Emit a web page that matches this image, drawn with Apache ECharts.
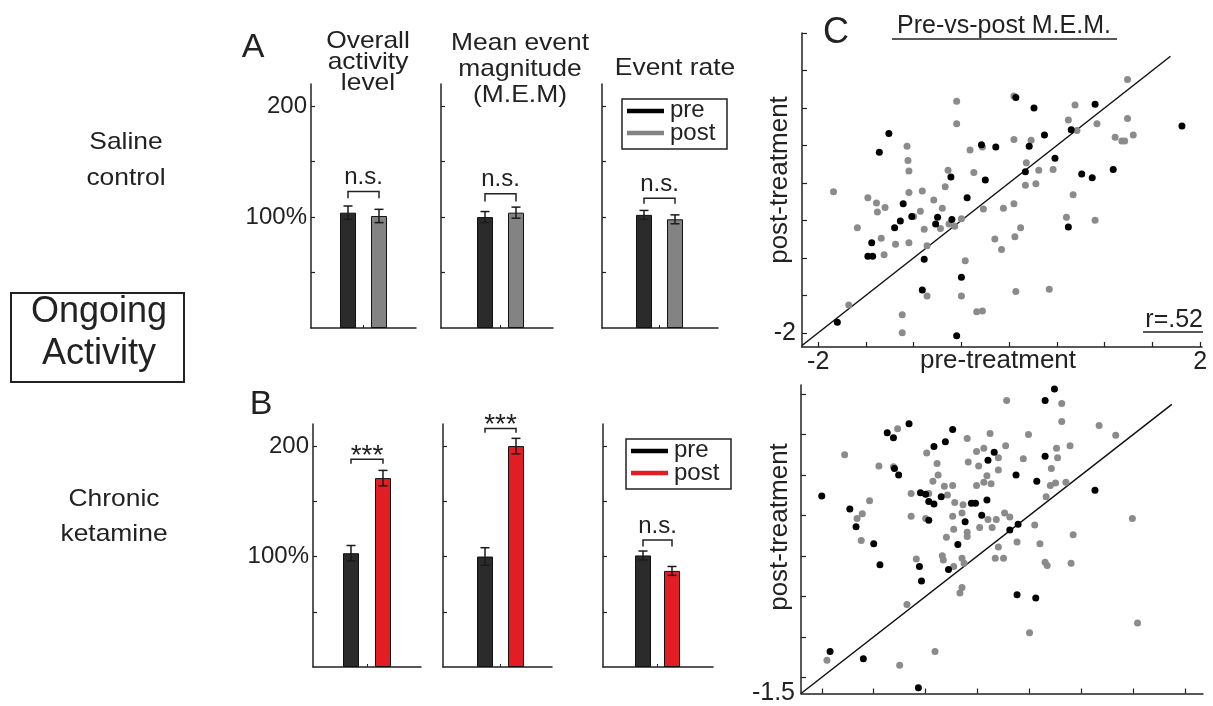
<!DOCTYPE html>
<html>
<head>
<meta charset="utf-8">
<script src="https://cdn.jsdelivr.net/npm/echarts@6/dist/echarts.min.js"></script>
<style>
  html, body { margin: 0; background: #fff; }
  #chart { width: 1213px; height: 706px; }
</style>
</head>
<body>
<div id="chart"></div>
<script>
// ---------- data ----------
const groups = ['pre', 'post']
const salineMean = [[104, 101], [100, 104], [102, 98]]
const salineSem = [[6, 6], [5, 5], [4, 4]]
const ketamineMean = [[103, 171], [100, 200], [101, 87]]
const ketamineSem = [[7, 7], [8, 7], [4, 4]]
const salineSig = ['n.s.', 'n.s.', 'n.s.']
const ketamineSig = ['***', '***', 'n.s.']
// bracket level and end of the bracket legs, in % units
const salineSigY = [[123, 117], [121, 114], [117, 112]]
const ketamineSigY = [[188, 184], [216, 212], [115, 109]]
const barTicks = [50, 100, 150, 200]
const barLabelValues = [100, 200]
const barLabelText = { 100: '100%', 200: '200' }

// Pre-vs-post M.E.M., saline (top) and ketamine (bottom); [pre, post]
const topBlack = [[-1.80,-1.86],[-1.26,0.66],[-1.36,0.41],[-1.11,-0.28],[-1.14,-0.51],[-1.20,-0.60],[-1.44,-0.80],[-1.48,-0.98],[-1.43,-0.98],[-1.02,-0.45],[-0.89,-1.02],[-0.91,-1.43],[-0.77,-0.55],[-0.75,-0.46],[-0.60,-0.49],[-0.61,0.08],[-0.44,-0.20],[-0.50,-1.26],[-0.55,-2.04],[-0.29,0.51],[-0.25,0.04],[-0.14,0.48],[0.07,1.14],[0.26,1.00],[0.21,0.49],[0.37,0.64],[0.17,0.15],[0.48,0.33],[0.65,0.71],[0.90,1.05],[0.76,0.12],[0.87,0.07],[0.62,-0.59],[1.09,0.18],[1.81,0.76]]
const topGray = [[-1.84,-0.12],[-1.68,-1.63],[-1.59,-0.60],[-1.48,-0.20],[-1.39,-0.27],[-1.38,-0.39],[-1.30,-0.33],[-1.34,-0.74],[-1.31,-0.96],[-1.19,-0.82],[-1.07,0.49],[-1.06,0.30],[-1.05,0.16],[-1.05,-0.13],[-1.05,-0.80],[-1.12,-1.76],[-1.12,-2.00],[-1.00,-0.45],[-0.93,-0.38],[-0.91,-0.11],[-0.89,-0.62],[-0.86,-0.84],[-0.86,-1.51],[-0.79,-0.23],[-0.70,-0.34],[-0.67,-0.05],[-0.64,0.17],[-0.72,-0.61],[-0.63,-0.55],[-0.57,-0.58],[-0.55,1.09],[-0.55,0.79],[-0.50,-0.48],[-0.46,-1.04],[-0.50,-1.51],[-0.41,0.44],[-0.37,0.14],[-0.34,-1.72],[-0.28,-1.71],[-0.27,-0.35],[-0.28,0.48],[-0.15,-0.75],[-0.08,-0.89],[-0.06,-0.34],[0.05,1.16],[0.05,0.58],[0.05,-0.28],[0.06,-0.72],[0.07,-1.45],[0.12,-0.60],[0.17,-0.03],[0.18,0.27],[0.23,0.57],[0.28,-0.01],[0.31,0.17],[0.42,-1.42],[0.46,0.18],[0.60,-0.46],[0.62,0.84],[0.67,-0.16],[0.69,1.04],[0.71,0.70],[0.90,-0.50],[0.92,0.79],[1.11,0.61],[1.18,0.56],[1.21,0.56],[1.24,1.38],[1.24,0.86],[1.30,0.64]]
const bottomBlack = [[-1.30,0.94],[-1.03,0.78],[-0.97,0.56],[-0.80,0.35],[-0.74,0.09],[-0.67,1.72],[-0.61,1.66],[-0.60,1.28],[-0.56,1.20],[-0.46,1.83],[-1.22,-0.98],[-0.90,-1.07],[-0.37,-1.43],[-0.36,0.07],[-0.34,-0.11],[-0.35,0.98],[-0.30,0.96],[-0.27,0.87],[-0.22,1.55],[-0.22,0.84],[-0.15,0.93],[-0.11,1.61],[-0.27,0.64],[-0.08,0.03],[-0.04,1.76],[0.01,0.34],[0.08,0.62],[0.14,0.85],[0.18,0.85],[0.24,0.70],[0.29,0.89],[0.30,1.38],[0.36,1.48],[0.51,0.52],[0.59,0.59],[0.57,1.20],[0.58,-0.28],[0.76,-0.32],[0.77,1.12],[0.85,1.43],[0.85,2.12],[0.94,2.26],[1.33,1.01]]
const bottomGray = [[-1.25,-1.09],[-1.08,1.45],[-0.96,0.66],[-0.91,0.72],[-0.92,0.39],[-0.84,0.88],[-0.75,1.31],[-0.57,1.77],[-0.61,1.30],[-0.55,-1.15],[-0.48,-0.40],[-0.44,0.97],[-0.44,0.69],[-0.39,0.16],[-0.29,1.47],[-0.30,0.66],[-0.27,0.97],[-0.23,1.12],[-0.19,1.34],[-0.18,1.20],[-0.21,-0.98],[-0.12,1.06],[-0.09,0.95],[-0.04,1.07],[-0.02,0.86],[-0.04,0.69],[-0.03,0.53],[-0.10,0.43],[-0.14,0.20],[-0.13,0.15],[-0.03,0.07],[0.05,0.17],[0.07,0.11],[0.05,-0.19],[0.03,-0.26],[0.05,0.73],[0.06,0.83],[0.10,1.65],[0.11,1.36],[0.10,0.49],[0.10,0.44],[0.19,1.49],[0.19,1.07],[0.21,1.31],[0.22,0.55],[0.26,1.53],[0.26,1.11],[0.29,1.19],[0.33,1.09],[0.32,1.71],[0.30,0.65],[0.34,0.55],[0.38,0.65],[0.40,1.41],[0.40,1.26],[0.40,0.31],[0.37,0.17],[0.45,0.17],[0.46,0.73],[0.51,0.68],[0.47,1.56],[0.48,2.12],[0.58,0.37],[0.64,1.40],[0.69,1.70],[0.75,0.58],[0.80,0.35],[0.86,0.93],[0.85,0.12],[0.87,0.08],[0.90,1.07],[0.91,1.28],[0.95,1.10],[0.96,1.53],[0.97,1.41],[1.01,2.08],[1.01,1.86],[1.05,1.11],[1.09,1.56],[1.10,0.11],[1.12,0.46],[0.70,-0.75],[1.37,1.81],[1.53,1.69],[1.69,0.66],[1.74,-0.63]]
const topDiagonal = [[-2.17, -2.17], [1.69, 1.69]]
const bottomDiagonal = [[-1.5, -1.5], [2.07, 2.07]]
const topTicks = [-2, -1.5, -1, -0.5, 0, 0.5, 1, 1.5, 2]
const topXLabels = [-2, 2]
const topYLabels = [-2]
const bottomTicks = [-1.3, -0.8, -0.3, 0.2, 0.7, 1.2, 1.7, 2.2]
const bottomYLabels = [-1.5]

// ---------- layout / style ----------
const FONT = 'Liberation Sans, Arial, Helvetica, sans-serif'
const INK = '#222'
const preColor = '#2b2b2b'
const postColors = ['#838383', '#e31d24']
const axisLine = { lineStyle: { color: INK, width: 1.5 } }

// pixel boxes of the six bar panels, and the centres of the two bars
const barPanels = [
  { left: 311, right: 416, top: 84, bottom: 328, pos: [348, 379] },
  { left: 441, right: 553, top: 84, bottom: 328, pos: [485, 516] },
  { left: 602, right: 718, top: 84, bottom: 328, pos: [644, 675] },
  { left: 313, right: 421, top: 424, bottom: 667, pos: [351, 383] },
  { left: 443, right: 552, top: 424, bottom: 667, pos: [485, 516] },
  { left: 603, right: 713, top: 424, bottom: 667, pos: [643, 672] },
]

const grids = []
const xAxes = []
const yAxes = []
const series = []

barPanels.forEach((p, i) => {
  const row = i < 3 ? 0 : 1
  const col = i % 3
  const mean = row ? ketamineMean[col] : salineMean[col]
  const sem = row ? ketamineSem[col] : salineSem[col]
  const sig = row ? ketamineSig[col] : salineSig[col]
  const sigY = row ? ketamineSigY[col] : salineSigY[col]
  const unit = p.pos[1] - p.pos[0]
  const xmin = 1 - (p.pos[0] - p.left) / unit

  grids.push({ left: p.left, top: p.top, width: p.right - p.left, height: p.bottom - p.top })
  xAxes.push({
    gridIndex: i, type: 'value', min: xmin, max: xmin + (p.right - p.left) / unit,
    axisLine: { show: true, onZero: false, ...axisLine },
    axisTick: { show: true, inside: true, length: 3, customValues: [1.5], lineStyle: { color: INK } },
    axisLabel: { show: false }, splitLine: { show: false },
  })
  yAxes.push({
    gridIndex: i, type: 'value', min: 0, max: 220,
    axisLine: { show: true, onZero: false, ...axisLine },
    axisTick: { show: true, inside: true, length: 4, customValues: barTicks, lineStyle: { color: INK, width: 1.2 } },
    axisLabel: {
      show: col === 0, customValues: barLabelValues, formatter: (v) => barLabelText[v],
      fontSize: 24, fontFamily: FONT, color: INK, margin: 4,
    },
    splitLine: { show: false },
  })
  series.push({
    type: 'bar', xAxisIndex: i, yAxisIndex: i, barWidth: 16, silent: true,
    data: groups.map((g, k) => ({
      value: [k + 1, mean[k]],
      itemStyle: { color: k ? postColors[row] : preColor, borderColor: '#111', borderWidth: 1 },
    })),
  })
  series.push({
    type: 'custom', xAxisIndex: i, yAxisIndex: i, silent: true, z: 5,
    data: groups.map((g, k) => [k + 1, mean[k], sem[k]]),
    renderItem(params, api) {
      const x = api.value(0), m = api.value(1), s = api.value(2)
      const hi = api.coord([x, m + s])
      const lo = api.coord([x, m - s])
      const st = { stroke: '#1a1a1a', lineWidth: 1.5 }
      return {
        type: 'group',
        children: [
          { type: 'line', shape: { x1: hi[0], y1: hi[1], x2: lo[0], y2: lo[1] }, style: st },
          { type: 'line', shape: { x1: hi[0] - 4.5, y1: hi[1], x2: hi[0] + 4.5, y2: hi[1] }, style: st },
          { type: 'line', shape: { x1: lo[0] - 4.5, y1: lo[1], x2: lo[0] + 4.5, y2: lo[1] }, style: st },
        ],
      }
    },
  })
  series.push({
    type: 'custom', xAxisIndex: i, yAxisIndex: i, silent: true, clip: false, z: 5,
    data: [[1, 2, sigY[0], sigY[1]]],
    renderItem(params, api) {
      const a = api.coord([api.value(0), api.value(3)])
      const b = api.coord([api.value(0), api.value(2)])
      const c = api.coord([api.value(1), api.value(2)])
      const d = api.coord([api.value(1), api.value(3)])
      const isStar = sig === '***'
      return {
        type: 'group',
        children: [
          { type: 'polyline', shape: { points: [a, b, c, d] }, style: { stroke: INK, lineWidth: 1.5, fill: null } },
          {
            type: 'text', x: (b[0] + c[0]) / 2, y: b[1] + (isStar ? -3 : -14),
            style: { text: sig, fontSize: isStar ? 28 : 24, fontFamily: FONT, fill: INK, align: 'center', verticalAlign: 'middle' },
          },
        ],
      }
    },
  })
})

// scatter panels
const scatterPanels = [
  { left: 802, top: 33, width: 400, height: 314, x: [-2.17, 2.02], y: [-2.19, 2.0],
    ticks: topTicks, xLabels: topXLabels, yLabels: topYLabels,
    gray: topGray, black: topBlack, diag: topDiagonal },
  { left: 801, top: 385, width: 402, height: 314, x: [-1.5, 2.37], y: [-1.5, 2.31],
    ticks: bottomTicks, xLabels: [], yLabels: bottomYLabels,
    gray: bottomGray, black: bottomBlack, diag: bottomDiagonal },
]
scatterPanels.forEach((p) => {
  const gi = grids.length
  grids.push({ left: p.left, top: p.top, width: p.width, height: p.height })
  xAxes.push({
    gridIndex: gi, type: 'value', min: p.x[0], max: p.x[1],
    axisLine: { show: true, onZero: false, ...axisLine },
    axisTick: { show: true, inside: true, length: 5, customValues: p.ticks, lineStyle: { color: INK, width: 1.2 } },
    axisLabel: { customValues: p.xLabels, fontSize: 25, fontFamily: FONT, color: INK, margin: 3 },
    splitLine: { show: false },
  })
  yAxes.push({
    gridIndex: gi, type: 'value', min: p.y[0], max: p.y[1],
    axisLine: { show: true, onZero: false, ...axisLine },
    axisTick: { show: true, inside: true, length: 5, customValues: p.ticks, lineStyle: { color: INK, width: 1.2 } },
    axisLabel: { customValues: p.yLabels, fontSize: 25, fontFamily: FONT, color: INK, margin: 6 },
    splitLine: { show: false },
  })
  series.push({
    type: 'line', xAxisIndex: gi, yAxisIndex: gi, data: p.diag, showSymbol: false, silent: true,
    lineStyle: { color: '#111', width: 1.5 }, z: 1,
  })
  series.push({
    type: 'scatter', xAxisIndex: gi, yAxisIndex: gi, data: p.gray, symbolSize: 7, silent: true,
    itemStyle: { color: '#8b8b8b', opacity: 1 }, z: 2,
  })
  series.push({
    type: 'scatter', xAxisIndex: gi, yAxisIndex: gi, data: p.black, symbolSize: 7, silent: true,
    itemStyle: { color: '#000', opacity: 1 }, z: 3,
  })
})

// ---------- annotations ----------
function label(text, x, y, size, extra = {}) {
  return {
    type: 'text', x, y, scaleX: extra.scaleX || 1, rotation: extra.rotation || 0,
    style: {
      text, fontSize: size, fontFamily: FONT, fill: INK,
      align: extra.align || 'center', verticalAlign: 'middle', lineHeight: extra.lineHeight,
    },
  }
}
function hline(x1, x2, y, width = 1.5, color = INK) {
  return { type: 'line', shape: { x1, y1: y, x2, y2: y }, style: { stroke: color, lineWidth: width } }
}
function legend(left, top, postColor) {
  return [
    { type: 'rect', shape: { x: left, y: top, width: 105, height: 50 }, style: { fill: '#fff', stroke: INK, lineWidth: 1.5 }, z: 10 },
    { ...hline(left + 5, left + 42, top + 12, 4.5, '#000'), z: 11 },
    { ...hline(left + 5, left + 42, top + 34, 4.5, postColor), z: 11 },
    { ...label('pre', left + 48, top + 11, 24, { align: 'left' }), z: 11 },
    { ...label('post', left + 48, top + 34, 24, { align: 'left' }), z: 11 },
  ]
}

const SX = 1.1
const graphics = [
  label('A', 253, 48, 34),
  label('B', 261, 405, 34),
  label('C', 836, 33, 36),
  label('Overall\nactivity\nlevel', 368, 62, 24, { lineHeight: 21, scaleX: SX }),
  label('Mean event\nmagnitude\n(M.E.M)', 520, 69, 24, { lineHeight: 26, scaleX: SX }),
  label('Event rate', 675, 68, 24, { scaleX: SX }),
  label('Saline\ncontrol', 126, 160, 24, { lineHeight: 36, scaleX: SX }),
  label('Chronic\nketamine', 114, 517, 24, { lineHeight: 35, scaleX: SX }),
  label('Ongoing\nActivity', 99, 333, 36, { lineHeight: 42 }),
  { type: 'rect', shape: { x: 11, y: 293, width: 173, height: 89 }, style: { fill: null, stroke: INK, lineWidth: 2 } },
  label('Pre-vs-post M.E.M.', 1004, 26, 25),
  hline(892, 1117, 39),
  label('r=.52', 1203, 320, 25, { align: 'right' }),
  hline(1143, 1203, 332),
  label('pre-treatment', 998, 361, 26),
  label('post-treatment', 780, 180, 26, { rotation: Math.PI / 2 }),
  label('post-treatment', 780, 527, 26, { rotation: Math.PI / 2 }),
  ...legend(622, 99, postColors[0]),
  ...legend(626, 439, postColors[1]),
]

const chart = echarts.init(document.getElementById('chart'))
chart.setOption({
  animation: false,
  backgroundColor: '#fff',
  grid: grids,
  xAxis: xAxes,
  yAxis: yAxes,
  series,
  graphic: graphics,
})
</script>
</body>
</html>
